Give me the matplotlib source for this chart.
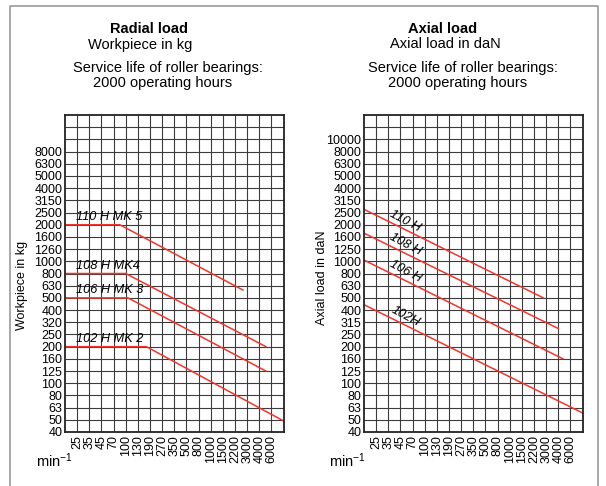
import numpy as np
import matplotlib
matplotlib.use("Agg")
import matplotlib.pyplot as plt
from matplotlib.lines import Line2D

plt.rcParams["font.family"] = ["Liberation Sans", "DejaVu Sans"]
plt.rcParams["mathtext.fontset"] = "custom"
plt.rcParams["mathtext.rm"] = "Liberation Sans"
plt.rcParams["mathtext.it"] = "Liberation Sans:italic"

# speed axis (min^-1), same for both charts
speeds = [25, 35, 45, 70, 100, 130, 190, 270, 350, 500, 800, 1000, 1500, 2200, 3000, 4000, 6000]

# load axes
radial_ticks = [40, 50, 63, 80, 100, 125, 160, 200, 250, 320, 400, 500, 630, 800,
                1000, 1260, 1600, 2000, 2500, 3150, 4000, 5000, 6300, 8000]
axial_ticks = [40, 50, 63, 80, 100, 125, 160, 200, 250, 315, 400, 500, 630, 800,
               1000, 1250, 1600, 2000, 2500, 3150, 4000, 5000, 6300, 8000, 10000]

# radial load curves: flat part up to knee speed, then falling to end point
radial_names = ["110 H MK 5", "108 H MK4", "106 H MK 3", "102 H MK 2"]
radial_flat = [2000, 800, 500, 200]
radial_knee = [84, 100, 105, 170]
radial_end_speed = [2700, 5000, 5000, 9000]
radial_end_load = [580, 200, 125, 49]

# axial load curves: straight from the left edge to end point
axial_names = ["110 H", "108 H", "106 H", "102H"]
axial_start_speed = [18, 18, 18, 18]
axial_start_load = [2650, 1710, 1020, 440]
axial_end_speed = [2800, 4000, 4700, 9000]
axial_end_load = [500, 280, 160, 57]

RED = "#f2352b"
GRID = "#3c3c3c"


def to_pos(v, ticks, first):
    # position on the evenly spaced chart grid, log interpolation between labels
    lv = np.log(np.atleast_1d(np.asarray(v, dtype=float)))
    lt = np.log(np.asarray(ticks, dtype=float))
    idx = np.arange(len(ticks)) + first
    out = np.interp(lv, lt, idx)
    lo = lv < lt[0]
    hi = lv > lt[-1]
    out[lo] = idx[0] + (lv[lo] - lt[0]) / (lt[1] - lt[0])
    out[hi] = idx[-1] + (lv[hi] - lt[-1]) / (lt[-1] - lt[-2])
    return out


def setup(ax, yticks):
    ax.set_xlim(0, 18)
    ax.set_ylim(0, 26)
    ax.set_xticks(np.arange(1, len(speeds) + 1))
    ax.set_xticklabels([str(s) for s in speeds], rotation=90, fontsize=9)
    ax.set_yticks(np.arange(len(yticks)))
    ax.set_yticklabels([str(t) for t in yticks], fontsize=9)
    ax.vlines(np.arange(1, 18), 0, 26, color=GRID, lw=0.8, zorder=0)
    ax.hlines(np.arange(1, 26), 0, 18, color=GRID, lw=0.8, zorder=0)
    ax.tick_params(which="both", length=0, pad=2)
    for sp in ax.spines.values():
        sp.set_color("#222222")
        sp.set_linewidth(1.3)


fig = plt.figure(figsize=(6.06, 4.86), dpi=100)
W, H = 606.0, 486.0

ax1 = fig.add_axes([65 / W, 1 - 432 / H, 218.5 / W, 317 / H])
ax2 = fig.add_axes([364 / W, 1 - 432 / H, 218.5 / W, 317 / H])
setup(ax1, radial_ticks)
setup(ax2, axial_ticks)

# radial lines
for name, flat, knee, es, el in zip(radial_names, radial_flat, radial_knee,
                                    radial_end_speed, radial_end_load):
    xk = to_pos(knee, speeds, 1)[0]
    xe = to_pos(es, speeds, 1)[0]
    yf = to_pos(flat, radial_ticks, 0)[0]
    ye = to_pos(el, radial_ticks, 0)[0]
    ax1.plot([0, xk, xe], [yf, yf, ye], color=RED, lw=1.1, clip_on=True)
    ax1.text(0.9, yf + 0.12, name, fontsize=9.2, style="italic", ha="left", va="bottom")

# axial lines
for name, ss, sl, es, el in zip(axial_names, axial_start_speed, axial_start_load,
                                axial_end_speed, axial_end_load):
    xs = to_pos(ss, speeds, 1)[0]
    xe = to_pos(es, speeds, 1)[0]
    ys = to_pos(sl, axial_ticks, 0)[0]
    ye = to_pos(el, axial_ticks, 0)[0]
    ax2.plot([xs, xe], [ys, ye], color=RED, lw=1.1, clip_on=True)
    slope = (ye - ys) / (xe - xs)
    xt = 3.4
    yt = ys + slope * xt + 0.75
    ax2.text(xt, yt, name, fontsize=9.2, style="italic", ha="center", va="center",
             rotation=-28, rotation_mode="anchor")

# headings
def ftxt(x, y, s, **kw):
    fig.text(x / W, 1 - y / H, s, ha="center", va="center", **kw)

ftxt(148.5, 29, "Radial load", fontsize=10.5, fontweight="bold")
ftxt(140, 45, "Workpiece in kg", fontsize=10.5)
ftxt(167.5, 68, "Service life of roller bearings:", fontsize=10.5)
ftxt(162.5, 83, "2000 operating hours", fontsize=10.5)

ftxt(443, 29, "Axial load", fontsize=10.5, fontweight="bold")
ftxt(445, 44, "Axial load in daN", fontsize=10.5)
ftxt(463, 68, "Service life of roller bearings:", fontsize=10.5)
ftxt(457.5, 83, "2000 operating hours", fontsize=10.5)

ftxt(22, 285, "Workpiece in kg", fontsize=9, rotation=90)
ftxt(322, 278, "Axial load in daN", fontsize=9, rotation=90)

ftxt(54, 461, "min$^{-1}$", fontsize=10.5)
ftxt(347, 461, "min$^{-1}$", fontsize=10.5)

# outer frame
fx = [10 / W, 10 / W, 598 / W, 598 / W]
fy = [0, 1 - 6.5 / H, 1 - 6.5 / H, 0]
fig.add_artist(Line2D(fx, fy, color="#9a9a9a", lw=1.2, transform=fig.transFigure))

fig.savefig("out.png", dpi=100)
